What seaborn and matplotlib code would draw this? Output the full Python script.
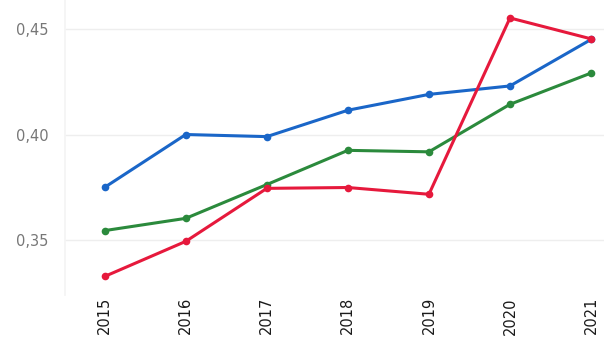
import pandas as pd
import matplotlib.pyplot as plt
import seaborn as sns

# values
years = ["2015", "2016", "2017", "2018", "2019", "2020", "2021"]
blue = [0.375, 0.400, 0.399, 0.4115, 0.419, 0.423, 0.445]
green = [0.3545, 0.3603, 0.3763, 0.3925, 0.3918, 0.4143, 0.4291]
red = [0.3328, 0.3494, 0.3745, 0.3749, 0.3717, 0.4552, 0.4453]

series_names = ["blue", "green", "red"]
colors = ["#1a66c8", "#2b8a3c", "#e6193c"]

df = pd.DataFrame({"year": years * 3,
                   "value": blue + green + red,
                   "series": sum([[s] * len(years) for s in series_names], [])})
df["x"] = df.groupby("series").cumcount()

sns.set_theme(style="white")
plt.rcParams['font.family'] = ['Segoe UI', 'DejaVu Sans']

fig = plt.figure(figsize=(6.04, 3.38), dpi=100)
ax = fig.add_axes([65 / 604, 43 / 338, 539 / 604, 295 / 338])

sns.lineplot(data=df, x="x", y="value", hue="series", palette=colors,
             marker="o", markersize=5.5, markeredgewidth=0, linewidth=2.2,
             legend=False, ax=ax)

ax.set_xlim(-0.49, 6.16)
ax.set_ylim(0.324, 0.4637)
ax.set_xticks(range(len(years)))
ax.set_xticklabels(years, rotation=90, fontsize=10.5, color="#1a1a1a")
ax.set_yticks([0.35, 0.40, 0.45])
ax.set_yticklabels(["0,35", "0,40", "0,45"], fontsize=10.5, color="#777777")
ax.tick_params(axis="y", pad=12, length=0)
ax.tick_params(axis="x", pad=1.5, length=0)
ax.set_xlabel("")
ax.set_ylabel("")
ax.grid(axis="y", color="#eeeeee", linewidth=1)
for s in ["top", "right", "bottom"]:
    ax.spines[s].set_visible(False)
ax.spines["left"].set_color("#f4f4f4")

fig.savefig("out.png", dpi=100)
